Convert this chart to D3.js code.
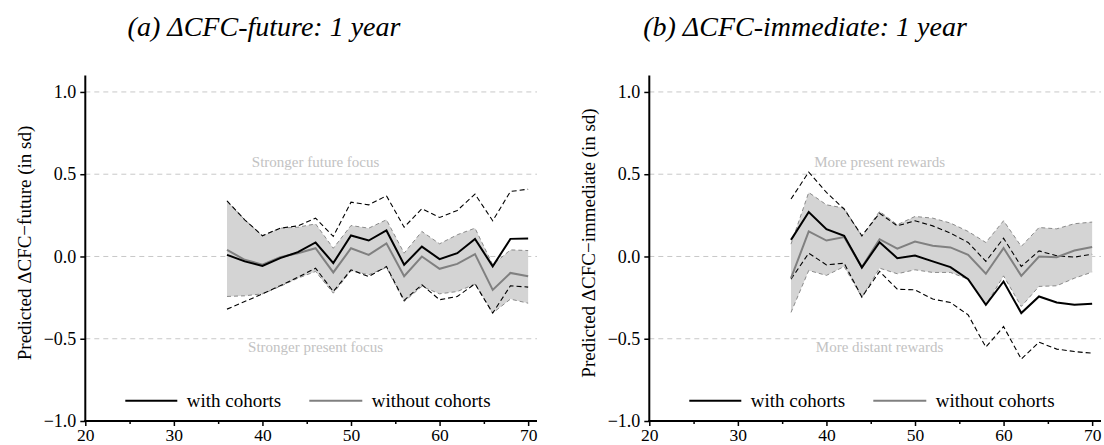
<!DOCTYPE html>
<html>
<head>
<meta charset="utf-8">
<script src="https://cdn.jsdelivr.net/npm/d3@7"></script>
<style>
  html, body { margin: 0; padding: 0; background: #fff; }
  svg { display: block; }
  text { font-family: "Liberation Serif", "Times New Roman", serif; }
</style>
</head>
<body>
<svg id="chart" width="1104" height="445"></svg>
<script>
// Ages at which predictions are evaluated
const ages = [36, 38, 40, 42, 44, 46, 48, 50, 52, 54, 56, 58, 60, 62, 64, 66, 68, 70];

// (a) CFC-future: model with cohort controls (estimate and 95% bounds)
const futureWith   = [0.01, -0.03, -0.057, -0.01, 0.026, 0.085, -0.04, 0.128, 0.097, 0.158, -0.05, 0.06, -0.016, 0.02, 0.107, -0.06, 0.107, 0.11];
const futureWithHi = [0.338, 0.223, 0.126, 0.172, 0.186, 0.233, 0.122, 0.33, 0.314, 0.369, 0.178, 0.29, 0.237, 0.28, 0.379, 0.217, 0.395, 0.409];
const futureWithLo = [-0.32, -0.274, -0.227, -0.178, -0.126, -0.071, -0.213, -0.081, -0.122, -0.061, -0.267, -0.172, -0.263, -0.243, -0.166, -0.344, -0.178, -0.186];
// (a) CFC-future: model without cohort controls
const futureWithout   = [0.04, -0.02, -0.05, -0.004, 0.02, 0.05, -0.097, 0.05, 0.01, 0.08, -0.12, 0.0, -0.075, -0.045, 0.014, -0.203, -0.1, -0.12];
const futureWithoutHi = [0.338, 0.223, 0.126, 0.172, 0.178, 0.198, 0.05, 0.188, 0.172, 0.223, 0.02, 0.152, 0.077, 0.132, 0.172, -0.05, 0.04, 0.036];
const futureWithoutLo = [-0.243, -0.239, -0.227, -0.182, -0.132, -0.091, -0.223, -0.087, -0.111, -0.067, -0.274, -0.182, -0.227, -0.213, -0.168, -0.344, -0.259, -0.284];

// (b) CFC-immediate: model with cohort controls
const immedWith   = [0.101, 0.27, 0.166, 0.126, -0.067, 0.087, -0.01, 0.006, -0.03, -0.065, -0.138, -0.294, -0.152, -0.344, -0.243, -0.28, -0.294, -0.288];
const immedWithHi = [0.349, 0.513, 0.389, 0.288, 0.126, 0.263, 0.186, 0.217, 0.186, 0.142, 0.085, -0.03, 0.111, -0.061, 0.034, 0.004, -0.004, 0.014];
const immedWithLo = [-0.138, 0.02, -0.051, -0.041, -0.247, -0.091, -0.199, -0.203, -0.259, -0.28, -0.355, -0.551, -0.426, -0.624, -0.521, -0.563, -0.578, -0.588];
// (b) CFC-immediate: model without cohort controls
const immedWithout   = [-0.132, 0.152, 0.097, 0.118, -0.065, 0.105, 0.047, 0.091, 0.065, 0.055, 0.01, -0.105, 0.051, -0.118, 0.0, -0.004, 0.036, 0.057];
const immedWithoutHi = [0.075, 0.389, 0.314, 0.294, 0.122, 0.274, 0.193, 0.243, 0.233, 0.203, 0.152, 0.085, 0.217, 0.061, 0.176, 0.168, 0.199, 0.209];
const immedWithoutLo = [-0.34, -0.085, -0.115, -0.061, -0.247, -0.071, -0.105, -0.081, -0.097, -0.097, -0.138, -0.294, -0.118, -0.304, -0.182, -0.178, -0.132, -0.095];

// Axis ticks and labels
const xMajorTicks = [20, 30, 40, 50, 60, 70];
const xMinorTicks = [25, 35, 45, 55, 65];
const yTicks = [-1, -0.5, 0, 0.5, 1];
const gridLevels = [-0.5, 0, 0.5, 1];
const legendLabels = ["with cohorts", "without cohorts"];

const panelTitles = ["(a) \u0394CFC-future: 1 year", "(b) \u0394CFC-immediate: 1 year"];
const yTitles = ["Predicted \u0394CFC\u2212future (in sd)", "Predicted \u0394CFC\u2212immediate (in sd)"];
const upperNotes = ["Stronger future focus", "More present rewards"];
const lowerNotes = ["Stronger present focus", "More distant rewards"];

const panels = [
  { title: panelTitles[0], yTitle: yTitles[0], up: upperNotes[0], down: lowerNotes[0],
    w: futureWith, wLo: futureWithLo, wHi: futureWithHi,
    wo: futureWithout, woLo: futureWithoutLo, woHi: futureWithoutHi,
    left: 85.3, right: 537, titleX: 264 },
  { title: panelTitles[1], yTitle: yTitles[1], up: upperNotes[1], down: lowerNotes[1],
    w: immedWith, wLo: immedWithLo, wHi: immedWithHi,
    wo: immedWithout, woLo: immedWithoutLo, woHi: immedWithoutHi,
    left: 649.3, right: 1101, titleX: 805 }
];

const svg = d3.select("#chart");
const plotTop = 75.5, plotBottom = 421;
const fmt = v => (v < 0 ? "\u2212" : "") + Math.abs(v).toFixed(1);

panels.forEach(p => {
  const x = d3.scaleLinear().domain([20, 71]).range([p.left, p.right]);
  const y = d3.scaleLinear().domain([-1, 1.1]).range([plotBottom, plotTop]);
  const g = svg.append("g");

  // title
  g.append("text")
    .attr("x", p.titleX).attr("y", 36)
    .attr("text-anchor", "middle")
    .style("font-style", "italic")
    .style("font-size", "28px")
    .text(p.title);

  // horizontal reference lines
  g.selectAll(".grid").data(gridLevels).enter().append("line")
    .attr("x1", p.left).attr("x2", p.right)
    .attr("y1", d => y(d)).attr("y2", d => y(d))
    .attr("stroke", "#c8c8c8").attr("stroke-width", 1)
    .attr("stroke-dasharray", "5,4");

  // region notes
  const mid = x(46);
  g.append("text").attr("x", mid).attr("y", 167)
    .attr("text-anchor", "middle").attr("fill", "#c2c2c2")
    .style("font-size", "15px").text(p.up);
  g.append("text").attr("x", mid).attr("y", 352)
    .attr("text-anchor", "middle").attr("fill", "#c2c2c2")
    .style("font-size", "15px").text(p.down);

  const idx = d3.range(ages.length);

  // confidence band for the model without cohorts
  const area = d3.area()
    .x(i => x(ages[i]))
    .y0(i => y(p.woLo[i]))
    .y1(i => y(p.woHi[i]));
  g.append("path").datum(idx).attr("d", area)
    .attr("fill", "#d4d4d4").attr("stroke", "none");

  const line = arr => d3.line().x(i => x(ages[i])).y(i => y(arr[i]))(idx);

  // band edges
  [p.woLo, p.woHi].forEach(arr => {
    g.append("path").attr("d", line(arr))
      .attr("fill", "none").attr("stroke", "#8a8a8a")
      .attr("stroke-width", 1).attr("stroke-dasharray", "4,3");
  });

  // bounds for the model with cohorts
  [p.wLo, p.wHi].forEach(arr => {
    g.append("path").attr("d", line(arr))
      .attr("fill", "none").attr("stroke", "#000")
      .attr("stroke-width", 1.1).attr("stroke-dasharray", "5,3");
  });

  // estimates
  g.append("path").attr("d", line(p.wo))
    .attr("fill", "none").attr("stroke", "#808080").attr("stroke-width", 2);
  g.append("path").attr("d", line(p.w))
    .attr("fill", "none").attr("stroke", "#000").attr("stroke-width", 2);

  // x axis
  const xAxis = g.append("g").attr("transform", `translate(0,${plotBottom})`)
    .call(d3.axisBottom(x).tickValues(xMajorTicks).tickSize(5).tickPadding(3).tickFormat(d3.format("d")));
  xAxis.select(".domain").attr("stroke-width", 2).attr("d", `M${p.left - 1},0H${p.right}`);
  xAxis.selectAll(".tick line").attr("stroke-width", 1.5);
  xAxis.selectAll("text").style("font-size", "17.5px").attr("fill", "#000");
  g.append("g").attr("transform", `translate(0,${plotBottom})`)
    .call(d3.axisBottom(x).tickValues(xMinorTicks).tickSize(3).tickFormat(""))
    .call(a => a.select(".domain").remove())
    .selectAll(".tick line").attr("stroke-width", 1.5);

  // y axis
  const yAxis = g.append("g").attr("transform", `translate(${p.left},0)`)
    .call(d3.axisLeft(y).tickValues(yTicks).tickSize(5).tickPadding(4).tickFormat(fmt));
  yAxis.select(".domain").attr("stroke-width", 2).attr("d", `M0,${plotTop}V${plotBottom + 1}`);
  yAxis.selectAll(".tick line").attr("stroke-width", 1.5);
  yAxis.selectAll("text").style("font-size", "18px").attr("fill", "#000");

  // y title
  g.append("text")
    .attr("transform", `translate(${p.left - 54},243) rotate(-90)`)
    .attr("text-anchor", "middle")
    .style("font-size", "19px")
    .text(p.yTitle);

  // legend
  const lx = p.left + 40;
  g.append("line").attr("x1", lx).attr("x2", lx + 52).attr("y1", 400.7).attr("y2", 400.7)
    .attr("stroke", "#000").attr("stroke-width", 2);
  g.append("text").attr("x", lx + 61.5).attr("y", 407).style("font-size", "19px").text(legendLabels[0]);
  g.append("line").attr("x1", lx + 184).attr("x2", lx + 237).attr("y1", 400.7).attr("y2", 400.7)
    .attr("stroke", "#808080").attr("stroke-width", 2);
  g.append("text").attr("x", lx + 246.5).attr("y", 407).style("font-size", "19px").text(legendLabels[1]);
});
</script>
</body>
</html>
